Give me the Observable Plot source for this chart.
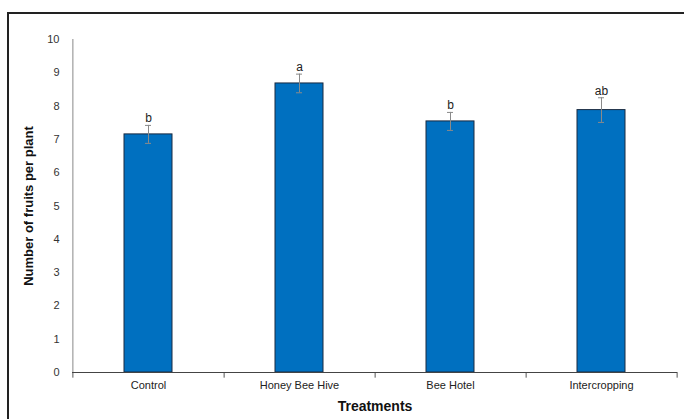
<!DOCTYPE html>
<html>
<head>
<meta charset="utf-8">
<script src="https://cdn.jsdelivr.net/npm/d3@7"></script>
<script src="https://cdn.jsdelivr.net/npm/@observablehq/plot@0.6"></script>
<style>
  html, body { margin: 0; padding: 0; background: #fff; }
  #wrap { position: relative; width: 684px; height: 419px; overflow: hidden; }
  #frame { position: absolute; left: 7px; top: 12px; width: 700px; height: 420px;
           border-left: 2px solid #222; border-top: 2px solid #222; pointer-events: none; }
  svg { position: absolute; left: 0; top: 0; }
</style>
</head>
<body>
<div id="wrap"><div id="frame"></div></div>
<script>
const categories = ["Control", "Honey Bee Hive", "Bee Hotel", "Intercropping"];
const means = [7.15, 8.68, 7.54, 7.88];
const errors = [0.27, 0.28, 0.27, 0.37];
const letters = ["b", "a", "b", "ab"];
const yTicks = [0, 1, 2, 3, 4, 5, 6, 7, 8, 9, 10];

const data = categories.map((c, i) => ({
  cat: c, mean: means[i], lo: means[i] - errors[i], hi: means[i] + errors[i], letter: letters[i]
}));

const W = 684, H = 419, mL = 72, mR = 7;
const step = (W - mL - mR) / categories.length;

const chart = Plot.plot({
  width: W,
  height: H,
  marginLeft: mL,
  marginRight: mR,
  marginTop: 39,
  marginBottom: 47,
  style: { fontFamily: "Liberation Sans, Arial, sans-serif", fontSize: "11px", color: "#222", background: "transparent" },
  x: { domain: categories, paddingInner: 0.68, paddingOuter: 0.34, label: null },
  y: { domain: [0, 10], label: null },
  marks: [
    Plot.axisY({ticks: yTicks, tickSize: 0, tickPadding: 13, tickFormat: d => d, fontSize: 11, fill: "#333"}),
    Plot.axisX({tickSize: 0, tickPadding: 9, fontSize: 11, fill: "#222"}),
    Plot.barY(data, {x: "cat", y: "mean", fill: "#0070C0", stroke: "#1a2a40", strokeWidth: 1}),
    Plot.ruleX(data, {x: "cat", y1: "lo", y2: "hi", stroke: "#8a8a8a", strokeWidth: 1}),
    Plot.tickY(data, {x: "cat", y: "hi", stroke: "#8a8a8a", insetLeft: 21, insetRight: 21}),
    Plot.tickY(data, {x: "cat", y: "lo", stroke: "#8a8a8a", insetLeft: 21, insetRight: 21}),
    Plot.text(data, {x: "cat", y: "hi", text: "letter", dy: -7, fontSize: 12, fill: "#222"}),
    Plot.ruleX([0], {x: () => categories[0], y1: 0, y2: -0.17, dx: -step / 2, stroke: "#555"}),
    Plot.ruleX(categories, {x: d => d, y1: 0, y2: -0.17, dx: step / 2, stroke: "#555"}),
    Plot.ruleY([0], {stroke: "#444"}),
    Plot.ruleX([0], {x: () => categories[0], y1: 0, y2: 10, dx: -step / 2, stroke: "#888"}),
    Plot.text(["Treatments"], {frameAnchor: "bottom", text: d => d, dy: 38, fontWeight: "bold", fontSize: 14, fill: "#111"}),
    Plot.text(["Number of fruits per plant"], {frameAnchor: "left", textAnchor: "middle", text: d => d, rotate: -90, dx: -44, fontWeight: "bold", fontSize: 13, fill: "#111"})
  ]
});
document.getElementById("wrap").insertBefore(chart, document.getElementById("frame"));
</script>
</body>
</html>
